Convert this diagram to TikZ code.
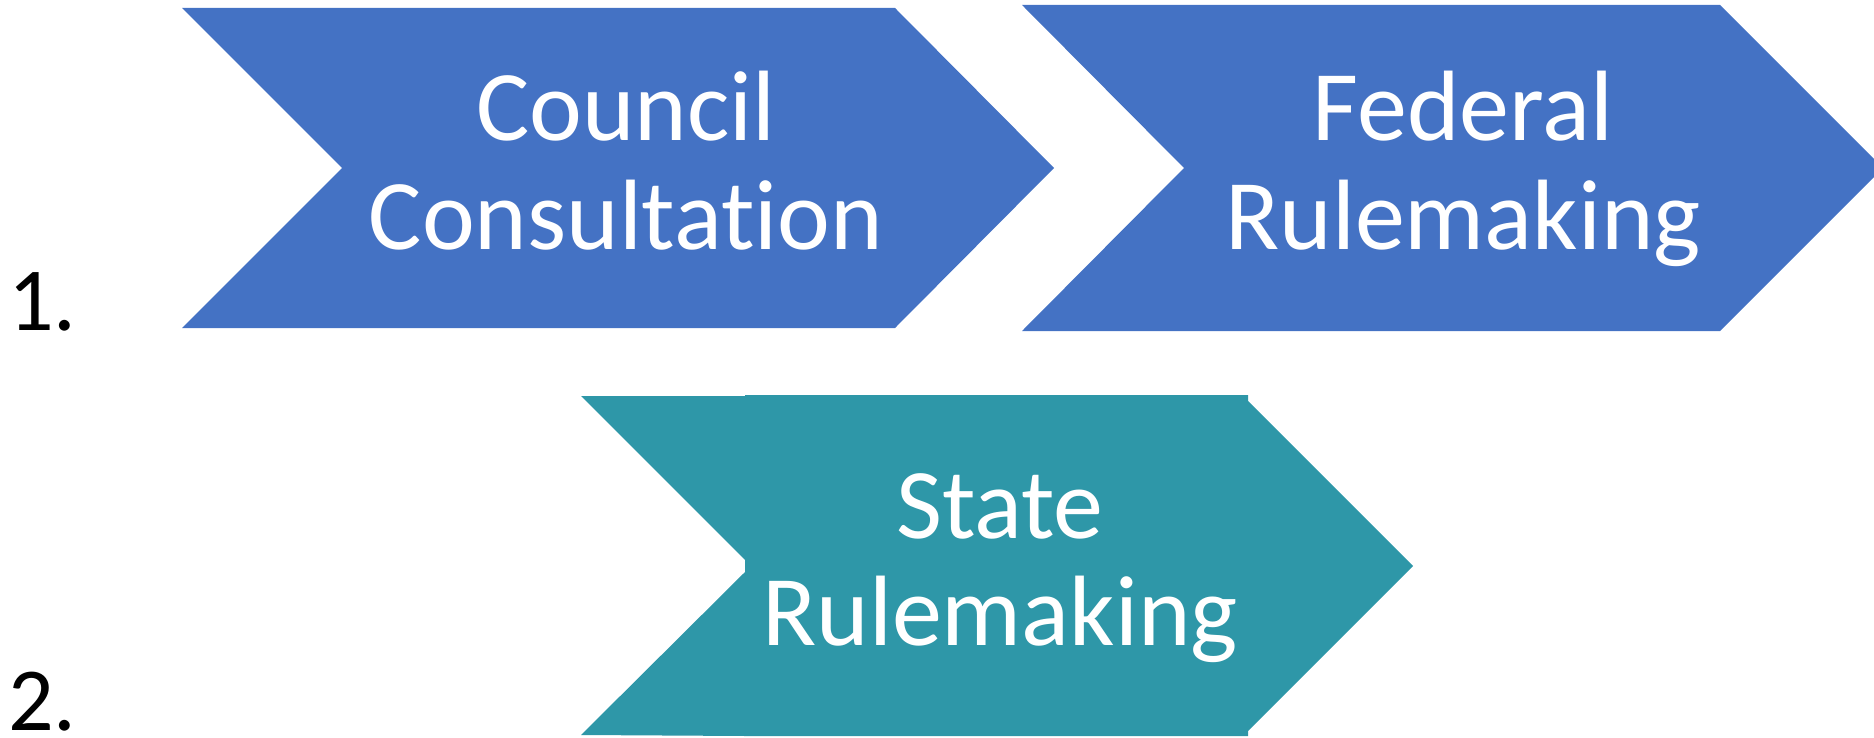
\documentclass[tikz,border=0pt]{standalone}
\usepackage{fontspec}
\setmainfont{Carlito}[Ligatures=NoCommon]
\definecolor{cblue}{HTML}{4472C4}
\definecolor{cteal}{HTML}{2E97A8}
\begin{document}
\begin{tikzpicture}[x=1pt,y=-1pt,
  lbl/.style={text=white,font=\fontsize{100}{108}\selectfont,anchor=base,inner sep=0pt},
  num/.style={text=black,font=\fontsize{90}{90}\selectfont,anchor=base west,inner sep=0pt,text depth=0pt}]
\useasboundingbox (0,0) rectangle (1874,738);
\clip (0,0) rectangle (1874,738);
% chevron 1
\fill[cblue] (182,8) -- (895,8) -- (1054,168) -- (895,328) -- (182,328) -- (342,168) -- cycle;
% chevron 2
\fill[cblue] (1022,5) -- (1720,5) -- (1883,168) -- (1720,331) -- (1022,331) -- (1184,168) -- cycle;
% chevron 3
\fill[cteal] (581,396) -- (745,396) -- (745,395) -- (1248,395) -- (1248,401) -- (1413,566)
  -- (1248,731) -- (1248,736) -- (745,736) -- (581,735) -- (745,572) -- (745,560) -- cycle;
% labels
\node[lbl] (council) at (626,141) {Council};
\node[lbl] (consult) at (626,249) {Consultation};
\node[lbl] (federal) at (1463,141) {Federal};
\node[lbl] (frule) at (1463,249) {Rulemaking};
\node[lbl] (state) at (1000,538) {State};
\node[lbl] (srule) at (1000,645) {Rulemaking};
\node[num] (one) at (8,330) {1.};
\node[num] (two) at (8,730) {2.};
\end{tikzpicture}
\end{document}
